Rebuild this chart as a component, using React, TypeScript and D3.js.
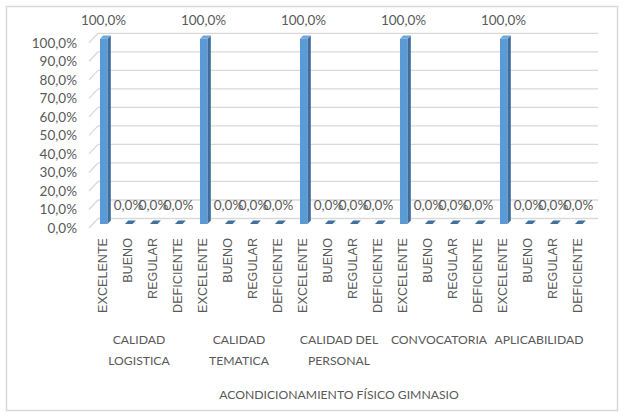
import React from "react";
import * as d3 from "d3";

// Survey rating per aspect of the "Acondicionamiento físico gimnasio" activity
const groups = [
  ["CALIDAD", "LOGISTICA"],
  ["CALIDAD", "TEMATICA"],
  ["CALIDAD DEL", "PERSONAL"],
  ["CONVOCATORIA"],
  ["APLICABILIDAD"],
];
const ratings = ["EXCELENTE", "BUENO", "REGULAR", "DEFICIENTE"];
// share of answers per group, in the order of `ratings`
const values = [
  [1, 0, 0, 0],
  [1, 0, 0, 0],
  [1, 0, 0, 0],
  [1, 0, 0, 0],
  [1, 0, 0, 0],
];
const yTicks = [0, 0.1, 0.2, 0.3, 0.4, 0.5, 0.6, 0.7, 0.8, 0.9, 1];
const axisTitle = "ACONDICIONAMIENTO FÍSICO GIMNASIO";

const W = 624;
const H = 417;
const textColor = "#595959";
const gridColor = "#D9D9D9";
const labelFont = "Lato, 'Liberation Sans', sans-serif";

const fmt = (v: number) => d3.format(".1%")(v).replace(".", ",");

export default function App() {
  // front edge of the floor; the back wall sits one depth step behind it
  const depth = { dx: 9, dy: -9.5 };
  const gx = d3
    .scaleBand<number>()
    .domain(groups.map((_, i) => i))
    .range([89, 589])
    .padding(0);
  const sx = d3
    .scaleBand<string>()
    .domain(ratings)
    .range([0, gx.bandwidth()])
    .padding(0);
  const y = d3.scaleLinear().domain([0, 1]).range([228, 42.8]);

  // bars stand part-way into the depth
  const barPlane = 0.42;
  const barDepth = 0.36;
  const barW = 7.6;
  const barInset = 7.2;
  const pOff = { dx: depth.dx * barPlane, dy: depth.dy * barPlane };
  const bOff = { dx: depth.dx * barDepth, dy: depth.dy * barDepth };

  const x0 = gx(0)!;
  const x1 = x0 + gx.bandwidth() * groups.length;

  const bars: React.ReactNode[] = [];
  const labels: React.ReactNode[] = [];
  const catLabels: React.ReactNode[] = [];
  groups.forEach((g, gi) => {
    ratings.forEach((r, ri) => {
      const v = values[gi][ri];
      const slot = gx(gi)! + sx(r)!;
      const left = slot + pOff.dx + barInset;
      const right = left + barW;
      const base = y(0) + pOff.dy;
      const top = y(v) + pOff.dy;
      const key = `${gi}-${ri}`;
      bars.push(
        <g key={key}>
          {v > 0 && (
            <rect x={left} y={top} width={barW} height={base - top} fill="#5B9BD5" />
          )}
          {v > 0 && (
            <polygon
              points={`${right},${top} ${right + bOff.dx},${top + bOff.dy} ${right + bOff.dx},${base + bOff.dy} ${right},${base}`}
              fill="#3F6E9E"
            />
          )}
          <polygon
            points={`${left},${top} ${right},${top} ${right + bOff.dx},${top + bOff.dy} ${left + bOff.dx},${top + bOff.dy}`}
            fill={v > 0 ? "#6FA6DB" : "#41719C"}
          />
        </g>
      );
      labels.push(
        <text
          key={`l${key}`}
          x={slot + sx.bandwidth() / 2 + 2}
          y={top - 18.5}
          dy="0.35em"
          textAnchor="middle"
          fontSize={13.5}
          fontFamily={labelFont}
          fill={textColor}
        >
          {fmt(v)}
        </text>
      );
      const cx = slot + sx.bandwidth() / 2;
      catLabels.push(
        <text
          key={`c${key}`}
          transform={`translate(${cx + 1},238) rotate(-90)`}
          dy="0.35em"
          textAnchor="end"
          fontSize={12.6}
          fontFamily="'Liberation Sans', sans-serif"
          fill={textColor}
        >
          {r}
        </text>
      );
    });
  });

  return (
    <svg
      width={W}
      height={H}
      style={{ position: "absolute", left: 0, top: 0, background: "#fff" }}
    >
      <rect x={6.5} y={6.5} width={611} height={404} fill="#fff" stroke={gridColor} strokeWidth={1.5} />
      {/* back-wall gridlines and their slanted side-wall ends */}
      {yTicks.map((t) => (
        <g key={t}>
          <line
            x1={x0 + depth.dx}
            x2={x1 + depth.dx}
            y1={y(t) + depth.dy}
            y2={y(t) + depth.dy}
            stroke={gridColor}
            strokeWidth={1.3}
          />
          <line
            x1={x0}
            y1={y(t)}
            x2={x0 + depth.dx}
            y2={y(t) + depth.dy}
            stroke={gridColor}
            strokeWidth={1.3}
          />
          <text
            x={77}
            y={y(t)}
            dy="0.35em"
            textAnchor="end"
            fontSize={13.5}
            fontFamily={labelFont}
            fill={textColor}
          >
            {fmt(t)}
          </text>
        </g>
      ))}
      {bars}
      {labels}
      {catLabels}
      {groups.map((g, gi) => (
        <text
          key={`g${gi}`}
          textAnchor="middle"
          fontSize={12.2}
          fontFamily={labelFont}
          fill={textColor}
        >
          {g.map((line, li) => (
            <tspan key={li} x={gx(gi)! + gx.bandwidth() / 2} y={340 + li * 21} dy="0.35em">
              {line}
            </tspan>
          ))}
        </text>
      ))}
      <text
        x={(x0 + x1) / 2}
        y={395}
        dy="0.35em"
        textAnchor="middle"
        fontSize={12.2}
        fontFamily={labelFont}
        fill={textColor}
      >
        {axisTitle}
      </text>
    </svg>
  );
}
